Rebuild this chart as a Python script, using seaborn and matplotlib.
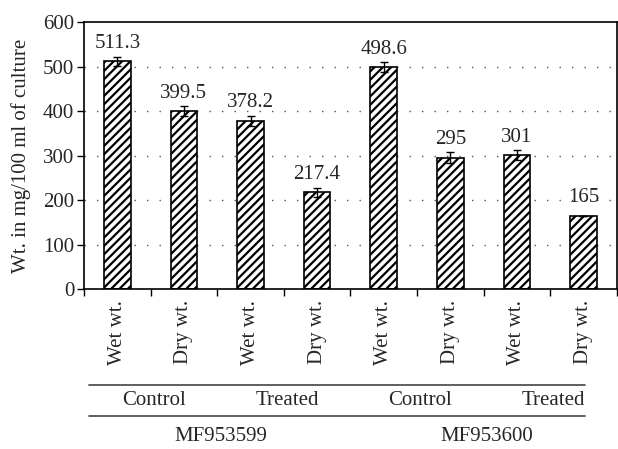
import matplotlib
matplotlib.use("Agg")
import matplotlib.pyplot as plt
import matplotlib.transforms as mtransforms
import seaborn as sns
import pandas as pd
import numpy as np

categories = ["Wet wt.", "Dry wt.", "Wet wt.", "Dry wt.", "Wet wt.", "Dry wt.", "Wet wt.", "Dry wt."]
values = [511.3, 399.5, 378.2, 217.4, 498.6, 295, 301, 165]
errors = [11, 11, 11, 10, 12, 12, 11, 0]
value_labels = ["511.3", "399.5", "378.2", "217.4", "498.6", "295", "301", "165"]
treatments = ["Control", "Treated", "Control", "Treated"]
strains = ["MF953599", "MF953600"]
yticks = [0, 100, 200, 300, 400, 500, 600]

FS = 15

sns.set_theme(style="white")
plt.rcParams["font.family"] = ["Liberation Serif", "DejaVu Serif"]
plt.rcParams["hatch.linewidth"] = 1.6

df = pd.DataFrame({"pos": [str(i) for i in range(len(values))], "val": values})

fig = plt.figure(figsize=(6.18, 4.49), dpi=100)
ax = fig.add_axes([0.136, 0.356, 0.862, 0.595])

sns.barplot(data=df, x="pos", y="val", color="white", edgecolor="black",
            linewidth=1.2, width=0.4, ax=ax, errorbar=None, saturation=1)
for p in ax.patches:
    p.set_hatch("////")
    p.set_facecolor("white")
    p.set_edgecolor("black")

xs = np.arange(len(values))
ax.errorbar(xs, values, yerr=errors, fmt="none", ecolor="black", elinewidth=1.0,
            capsize=3, capthick=1.0)

ax.bar_label(ax.containers[0], labels=value_labels, padding=6, fontsize=FS)

ax.set_ylim(0, 600)
ax.set_xlim(-0.5, len(values) - 0.5)
ax.set_yticks(yticks)
ax.set_yticklabels([str(t) for t in yticks], fontsize=FS)
ax.set_ylabel("Wt. in mg/100 ml of culture", fontsize=FS, labelpad=9)
ax.set_xlabel("")
ax.set_xticks(xs)
ax.set_xticklabels(categories, rotation=90, fontsize=FS)
ax.set_xticks(np.arange(-0.5, len(values), 1.0), minor=True)
ax.tick_params(axis="x", which="major", length=0, pad=8)
ax.tick_params(axis="x", which="minor", length=5, width=1, direction="out", color="black", bottom=True)
ax.tick_params(axis="y", length=5, width=1, direction="out", color="black", left=True, pad=2)

for y in yticks[1:-1]:
    ax.axhline(y, color="#555555", linestyle=(0, (1, 8)), linewidth=1.0, zorder=0)

for s in ax.spines.values():
    s.set_color("black")
    s.set_linewidth(1.2)

trans = mtransforms.blended_transform_factory(ax.transData, ax.transAxes)
ax.plot([-0.43, 7.02], [-0.36, -0.36], color="#444444", lw=1.2, transform=trans, clip_on=False)
ax.plot([-0.43, 7.02], [-0.476, -0.476], color="#444444", lw=1.2, transform=trans, clip_on=False)
for i, t in enumerate(treatments):
    ax.text(2 * i + 0.55, -0.418, t, transform=trans, ha="center", va="center", fontsize=FS)
for i, s in enumerate(strains):
    ax.text(4 * i + 1.55, -0.552, s, transform=trans, ha="center", va="center", fontsize=FS)

fig.savefig("out.png", dpi=100)
